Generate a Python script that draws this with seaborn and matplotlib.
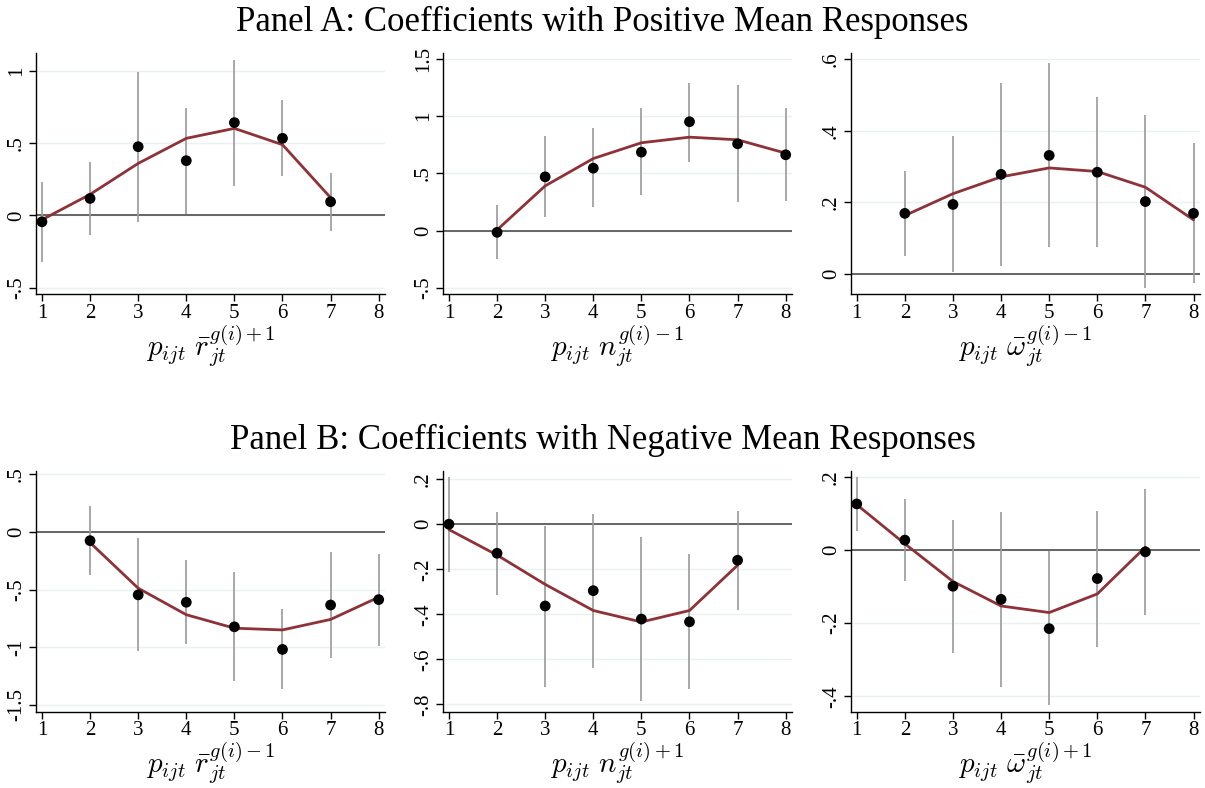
import numpy as np
import pandas as pd
import matplotlib
matplotlib.use("Agg")
import matplotlib.pyplot as plt
import seaborn as sns

# ---------------- data ----------------
a1_x = [1, 2, 3, 4, 5, 6, 7]
a1_coef = [-0.044, 0.118, 0.477, 0.380, 0.644, 0.535, 0.095]
a1_hi = [0.234, 0.373, 0.993, 0.743, 1.079, 0.799, 0.294]
a1_lo = [-0.322, -0.139, -0.044, 0.012, 0.206, 0.271, -0.106]
a1_fit = [-0.03, 0.146, 0.361, 0.535, 0.604, 0.491, 0.123]

a2_x = [2, 3, 4, 5, 6, 7, 8]
a2_coef = [-0.015, 0.470, 0.546, 0.686, 0.952, 0.759, 0.663]
a2_hi = [0.228, 0.823, 0.893, 1.068, 1.293, 1.270, 1.068]
a2_lo = [-0.251, 0.117, 0.204, 0.309, 0.604, 0.251, 0.263]
a2_fit = [0.006, 0.391, 0.630, 0.768, 0.817, 0.794, 0.677]

a3_x = [2, 3, 4, 5, 6, 7, 8]
a3_coef = [0.169, 0.194, 0.278, 0.331, 0.284, 0.202, 0.169]
a3_hi = [0.288, 0.385, 0.532, 0.588, 0.493, 0.444, 0.365]
a3_lo = [0.050, 0.005, 0.023, 0.075, 0.076, -0.040, -0.026]
a3_fit = [0.163, 0.224, 0.271, 0.296, 0.286, 0.242, 0.151]

b1_x = [2, 3, 4, 5, 6, 7, 8]
b1_coef = [-0.076, -0.546, -0.610, -0.823, -1.019, -0.634, -0.587]
b1_hi = [0.222, -0.055, -0.248, -0.347, -0.672, -0.172, -0.190]
b1_lo = [-0.374, -1.034, -0.969, -1.293, -1.366, -1.095, -0.990]
b1_fit = [-0.093, -0.488, -0.718, -0.835, -0.850, -0.759, -0.566]

b2_x = [1, 2, 3, 4, 5, 6, 7]
b2_coef = [0.0, -0.129, -0.363, -0.295, -0.421, -0.433, -0.160]
b2_hi = [0.210, 0.056, -0.006, 0.044, -0.055, -0.131, 0.059]
b2_lo = [-0.211, -0.312, -0.721, -0.637, -0.786, -0.733, -0.380]
b2_fit = [-0.024, -0.137, -0.267, -0.383, -0.434, -0.383, -0.182]

b3_x = [1, 2, 3, 4, 5, 6, 7]
b3_coef = [0.126, 0.027, -0.099, -0.135, -0.215, -0.078, -0.005]
b3_hi = [0.199, 0.140, 0.083, 0.105, -0.003, 0.108, 0.167]
b3_lo = [0.053, -0.086, -0.282, -0.374, -0.425, -0.265, -0.179]
b3_fit = [0.124, 0.017, -0.086, -0.153, -0.171, -0.120, 0.008]

x_ticks = [1, 2, 3, 4, 5, 6, 7, 8]

panels = [
    dict(x=a1_x, coef=a1_coef, lo=a1_lo, hi=a1_hi, fit=a1_fit,
         yticks=[-0.5, 0, 0.5, 1], ylabels=["-.5", "0", ".5", "1"],
         ylim=(-0.547, 1.127),
         xlabel=r"$p_{ijt}\ \bar{r}_{jt}^{g(i)+1}$"),
    dict(x=a2_x, coef=a2_coef, lo=a2_lo, hi=a2_hi, fit=a2_fit,
         yticks=[-0.5, 0, 0.5, 1, 1.5], ylabels=["-.5", "0", ".5", "1", "1.5"],
         ylim=(-0.557, 1.553),
         xlabel=r"$p_{ijt}\ n_{jt}^{g(i)-1}$"),
    dict(x=a3_x, coef=a3_coef, lo=a3_lo, hi=a3_hi, fit=a3_fit,
         yticks=[0, 0.2, 0.4, 0.6], ylabels=["0", ".2", ".4", ".6"],
         ylim=(-0.057, 0.617),
         xlabel=r"$p_{ijt}\ \bar{\omega}_{jt}^{g(i)-1}$"),
    dict(x=b1_x, coef=b1_coef, lo=b1_lo, hi=b1_hi, fit=b1_fit,
         yticks=[-1.5, -1, -0.5, 0, 0.5], ylabels=["-1.5", "-1", "-.5", "0", ".5"],
         ylim=(-1.559, 0.528),
         xlabel=r"$p_{ijt}\ \bar{r}_{jt}^{g(i)-1}$"),
    dict(x=b2_x, coef=b2_coef, lo=b2_lo, hi=b2_hi, fit=b2_fit,
         yticks=[-0.8, -0.6, -0.4, -0.2, 0, 0.2], ylabels=["-.8", "-.6", "-.4", "-.2", "0", ".2"],
         ylim=(-0.832, 0.236),
         xlabel=r"$p_{ijt}\ n_{jt}^{g(i)+1}$"),
    dict(x=b3_x, coef=b3_coef, lo=b3_lo, hi=b3_hi, fit=b3_fit,
         yticks=[-0.4, -0.2, 0, 0.2], ylabels=["-.4", "-.2", "0", ".2"],
         ylim=(-0.442, 0.216),
         xlabel=r"$p_{ijt}\ \bar{\omega}_{jt}^{g(i)+1}$"),
]

# ---------------- style ----------------
sns.set_style("white")
plt.rcParams["font.family"] = ["Liberation Serif", "DejaVu Serif"]
plt.rcParams["mathtext.fontset"] = "cm"
plt.rcParams["text.color"] = "black"
plt.rcParams["axes.labelcolor"] = "black"
plt.rcParams["xtick.color"] = "black"
plt.rcParams["ytick.color"] = "black"

W, H = 1205, 788
fig = plt.figure(figsize=(W / 100, H / 100), dpi=100)

lefts = [35.7, 442.7, 850.5]
width = 349.5
rows = [(53, 294.3), (471, 711.7)]

line_color = "#8e3238"
ci_color = "#9a9a9a"
zero_color = "#5a5a5a"
grid_color = "#e9f1f2"

for i, p in enumerate(panels):
    r, c = divmod(i, 3)
    top, bot = rows[r]
    ax = fig.add_axes([lefts[c] / W, 1 - bot / H, width / W, (bot - top) / H])
    df = pd.DataFrame({"x": p["x"], "coef": p["coef"], "fit": p["fit"]})
    for yt in p["yticks"]:
        ax.axhline(yt, color=grid_color, lw=1.0, zorder=0)
    ax.axhline(0, color=zero_color, lw=1.3, zorder=1)
    ax.vlines(p["x"], p["lo"], p["hi"], color=ci_color, lw=1.2, zorder=2)
    sns.lineplot(data=df, x="x", y="fit", color=line_color, lw=2.0, ax=ax, zorder=3)
    sns.scatterplot(data=df, x="x", y="coef", color="black", s=60, edgecolor="none",
                    ax=ax, zorder=4)
    ax.set_xlim(0.87, 8.135)
    ax.set_ylim(*p["ylim"])
    ax.set_xticks(x_ticks)
    ax.set_xticklabels([str(t) for t in x_ticks], fontsize=15)
    ax.set_yticks(p["yticks"])
    ax.set_yticklabels(p["ylabels"], fontsize=15, rotation=90, va="center")
    ax.tick_params(axis="both", which="major", direction="out", length=5, width=1,
                   color="black", pad=2, left=True, bottom=True)
    for s in ["top", "right"]:
        ax.spines[s].set_visible(False)
    for s in ["left", "bottom"]:
        ax.spines[s].set_color("black")
        ax.spines[s].set_linewidth(1.0)
    ax.set_ylabel("")
    ax.set_xlabel(p["xlabel"], fontsize=21, labelpad=0)

fig.text(0.5, 1 - 22 / H, "Panel A: Coefficients with Positive Mean Responses",
         ha="center", va="center", fontsize=25)
fig.text(0.5, 1 - 440 / H, "Panel B: Coefficients with Negative Mean Responses",
         ha="center", va="center", fontsize=25)

fig.savefig("out.png", dpi=100)
